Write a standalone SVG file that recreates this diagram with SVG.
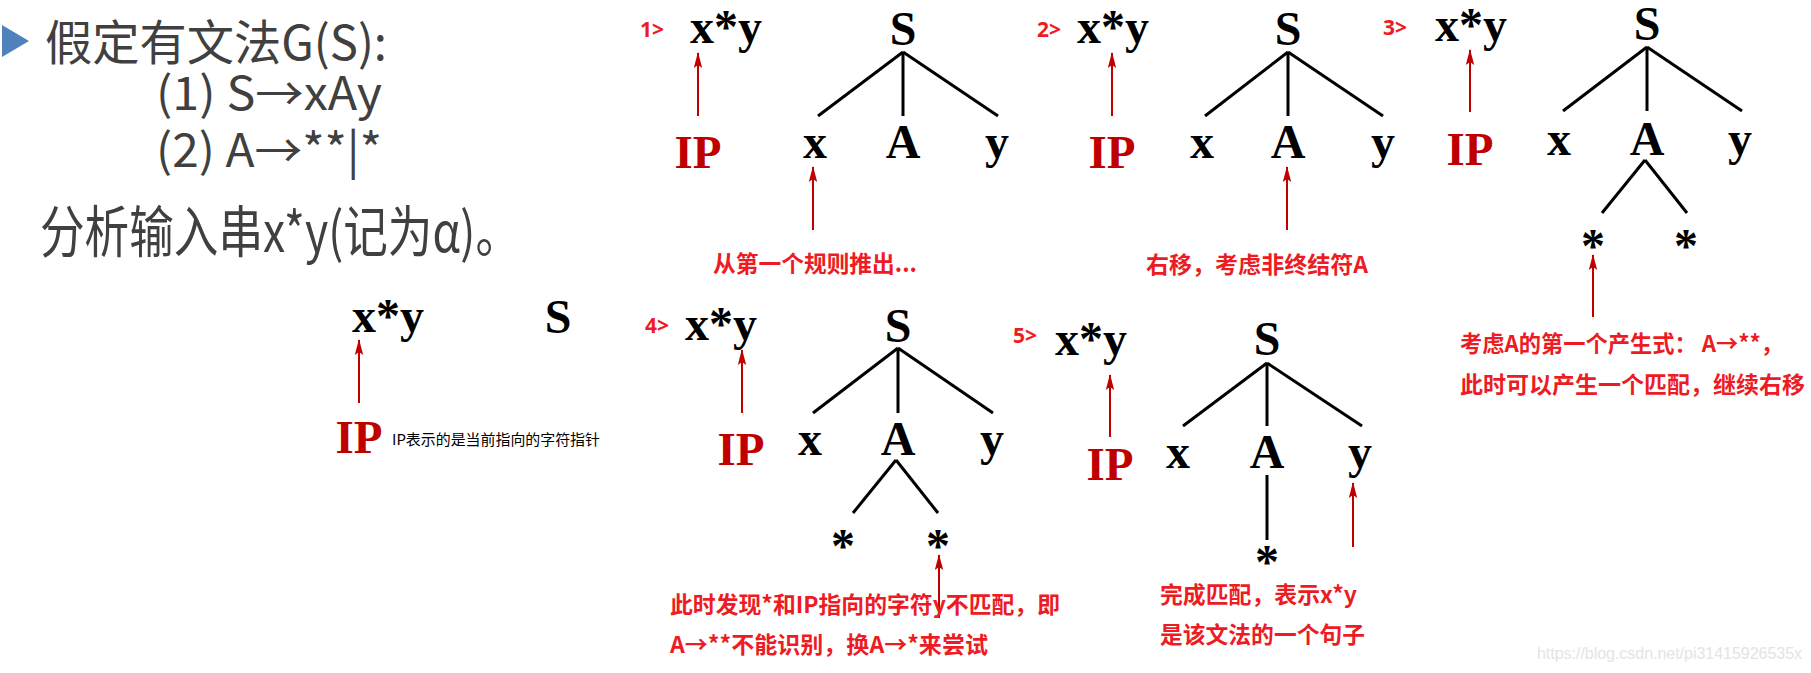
<svg xmlns="http://www.w3.org/2000/svg" width="1811" height="673" viewBox="0 0 1811 673">
<defs>
<style>
.intro{font-family:"Noto Sans CJK SC","Noto Sans",sans-serif;fill:#404040;}
.sym{font-family:"Liberation Serif","Times New Roman",serif;font-weight:bold;font-size:48px;fill:#000;}
.mid{text-anchor:middle;}
.ip{font-family:"Liberation Serif","Times New Roman",serif;font-weight:bold;font-size:47px;fill:#C00000;text-anchor:middle;}
.step{font-family:"Noto Sans","Noto Sans CJK SC",sans-serif;font-weight:bold;font-size:21px;fill:#ED1C24;}
.note{font-family:"Noto Sans CJK SC","Noto Sans",sans-serif;font-weight:bold;font-size:23px;fill:#ED1C24;}
.edge{stroke:#000;stroke-width:3;fill:none;}
.ptr{stroke:#C00000;stroke-width:2;fill:none;marker-end:url(#ah);}
</style>
<marker id="ah" markerUnits="userSpaceOnUse" viewBox="0 0 16 10" refX="15" refY="5" markerWidth="16" markerHeight="10" orient="auto">
<path d="M0,0.8 L16,5 L0,9.2 L3,5 Z" fill="#C00000"/>
</marker>
</defs>
<rect width="1811" height="673" fill="#fff"/>

<g id="intro">
<polygon points="2,25 29,41 2,57" fill="#4F81BD"/>
<text class="intro" x="45" y="60" font-size="48" textLength="342" lengthAdjust="spacingAndGlyphs">假定有文法G(S):</text>
<text class="intro" x="156" y="110" font-size="46" textLength="226" lengthAdjust="spacingAndGlyphs">(1) S→xAy</text>
<text class="intro" x="156" y="167" font-size="46" textLength="226" lengthAdjust="spacingAndGlyphs">(2) A→**|*</text>
<text class="intro" transform="translate(40,252) scale(1,1.2)" x="0" y="0" font-size="46" textLength="480" lengthAdjust="spacingAndGlyphs">分析输入串x*y(记为α)。</text>
</g>

<g id="connectors">
<g id="edges">
<line class="edge" x1="903" y1="52" x2="818" y2="116"/>
<line class="edge" x1="903" y1="52" x2="903" y2="116"/>
<line class="edge" x1="903" y1="52" x2="998" y2="116"/>

<line class="edge" x1="1288" y1="52" x2="1205" y2="116"/>
<line class="edge" x1="1288" y1="52" x2="1288" y2="116"/>
<line class="edge" x1="1288" y1="52" x2="1383" y2="116"/>

<line class="edge" x1="1647" y1="47" x2="1563" y2="111"/>
<line class="edge" x1="1647" y1="47" x2="1647" y2="111"/>
<line class="edge" x1="1647" y1="47" x2="1742" y2="111"/>
<line class="edge" x1="1645" y1="160" x2="1602" y2="213"/>
<line class="edge" x1="1645" y1="160" x2="1687" y2="213"/>

<line class="edge" x1="898" y1="348" x2="813" y2="413"/>
<line class="edge" x1="898" y1="348" x2="898" y2="413"/>
<line class="edge" x1="898" y1="348" x2="993" y2="413"/>
<line class="edge" x1="896" y1="460" x2="853" y2="513"/>
<line class="edge" x1="896" y1="460" x2="938" y2="513"/>

<line class="edge" x1="1267" y1="363" x2="1183" y2="426"/>
<line class="edge" x1="1267" y1="363" x2="1267" y2="426"/>
<line class="edge" x1="1267" y1="363" x2="1362" y2="426"/>
<line class="edge" x1="1267" y1="475" x2="1267" y2="540"/>
</g>
<g id="pointers">
<line class="ptr" x1="359" y1="403" x2="359" y2="340"/>
<line class="ptr" x1="698" y1="116" x2="698" y2="53"/>
<line class="ptr" x1="813" y1="230" x2="813" y2="167"/>
<line class="ptr" x1="1112" y1="116" x2="1112" y2="53"/>
<line class="ptr" x1="1287" y1="230" x2="1287" y2="167"/>
<line class="ptr" x1="1470" y1="112" x2="1470" y2="50"/>
<line class="ptr" x1="1593" y1="317" x2="1593" y2="255"/>
<line class="ptr" x1="742" y1="413" x2="742" y2="350"/>
<line class="ptr" x1="939" y1="618" x2="939" y2="555"/>
<line class="ptr" x1="1110" y1="437" x2="1110" y2="375"/>
<line class="ptr" x1="1353" y1="547" x2="1353" y2="483"/>
</g>
</g>

<g id="panel0">
<g id="p0-input"><text class="sym" x="352" y="332">x*y</text></g>
<g id="p0-S"><text class="sym mid" x="558" y="333">S</text></g>
<g id="p0-IP"><text class="ip" x="359" y="453">IP</text></g>
<g id="p0-note"><text x="392" y="445" font-family="Noto Sans CJK SC, Noto Sans, sans-serif" font-size="15" fill="#000" textLength="208" lengthAdjust="spacingAndGlyphs">IP表示的是当前指向的字符指针</text></g>
</g>

<g id="panel1">
<g id="p1-step"><text class="step" x="640" y="37">1&gt;</text></g>
<g id="p1-input"><text class="sym" x="690" y="43">x*y</text></g>
<g id="p1-S"><text class="sym mid" x="903" y="45">S</text></g>
<g id="p1-x"><text class="sym mid" x="815" y="158">x</text></g>
<g id="p1-A"><text class="sym mid" x="903" y="158">A</text></g>
<g id="p1-y"><text class="sym mid" x="997" y="158">y</text></g>
<g id="p1-IP"><text class="ip" x="698" y="168">IP</text></g>
<g id="p1-note"><text class="note" x="713" y="272" textLength="204" lengthAdjust="spacingAndGlyphs">从第一个规则推出...</text></g>
</g>

<g id="panel2">
<g id="p2-step"><text class="step" x="1037" y="37">2&gt;</text></g>
<g id="p2-input"><text class="sym" x="1077" y="43">x*y</text></g>
<g id="p2-S"><text class="sym mid" x="1288" y="45">S</text></g>
<g id="p2-x"><text class="sym mid" x="1202" y="158">x</text></g>
<g id="p2-A"><text class="sym mid" x="1288" y="158">A</text></g>
<g id="p2-y"><text class="sym mid" x="1383" y="158">y</text></g>
<g id="p2-IP"><text class="ip" x="1112" y="168">IP</text></g>
<g id="p2-note"><text class="note" x="1146" y="273" textLength="222" lengthAdjust="spacingAndGlyphs">右移，考虑非终结符A</text></g>
</g>

<g id="panel3">
<g id="p3-step"><text class="step" x="1383" y="35">3&gt;</text></g>
<g id="p3-input"><text class="sym" x="1435" y="41">x*y</text></g>
<g id="p3-S"><text class="sym mid" x="1647" y="40">S</text></g>
<g id="p3-x"><text class="sym mid" x="1559" y="155">x</text></g>
<g id="p3-A"><text class="sym mid" x="1647" y="155">A</text></g>
<g id="p3-y"><text class="sym mid" x="1740" y="155">y</text></g>
<g id="p3-star1"><text class="sym mid" x="1593" y="262">*</text></g>
<g id="p3-star2"><text class="sym mid" x="1686" y="262">*</text></g>
<g id="p3-IP"><text class="ip" x="1470" y="165">IP</text></g>
<g id="p3-note">
<text class="note" x="1460" y="352" textLength="323" lengthAdjust="spacingAndGlyphs">考虑A的第一个产生式： A→**，</text>
<text class="note" x="1460" y="393" textLength="345" lengthAdjust="spacingAndGlyphs">此时可以产生一个匹配，继续右移</text>
</g>
</g>

<g id="panel4">
<g id="p4-step"><text class="step" x="645" y="333">4&gt;</text></g>
<g id="p4-input"><text class="sym" x="685" y="340">x*y</text></g>
<g id="p4-S"><text class="sym mid" x="898" y="342">S</text></g>
<g id="p4-x"><text class="sym mid" x="810" y="455">x</text></g>
<g id="p4-A"><text class="sym mid" x="898" y="455">A</text></g>
<g id="p4-y"><text class="sym mid" x="992" y="455">y</text></g>
<g id="p4-star1"><text class="sym mid" x="843" y="562">*</text></g>
<g id="p4-star2"><text class="sym mid" x="938" y="562">*</text></g>
<g id="p4-IP"><text class="ip" x="741" y="465">IP</text></g>
<g id="p4-note">
<text class="note" x="670" y="613" textLength="390" lengthAdjust="spacingAndGlyphs">此时发现*和IP指向的字符y不匹配，即</text>
<text class="note" x="670" y="653" textLength="318" lengthAdjust="spacingAndGlyphs">A→**不能识别，换A→*来尝试</text>
</g>
</g>

<g id="panel5">
<g id="p5-step"><text class="step" x="1013" y="343">5&gt;</text></g>
<g id="p5-input"><text class="sym" x="1055" y="355">x*y</text></g>
<g id="p5-S"><text class="sym mid" x="1267" y="355">S</text></g>
<g id="p5-x"><text class="sym mid" x="1178" y="468">x</text></g>
<g id="p5-A"><text class="sym mid" x="1267" y="468">A</text></g>
<g id="p5-y"><text class="sym mid" x="1360" y="468">y</text></g>
<g id="p5-star"><text class="sym mid" x="1267" y="578">*</text></g>
<g id="p5-IP"><text class="ip" x="1110" y="480">IP</text></g>
<g id="p5-note">
<text class="note" x="1160" y="603" textLength="197" lengthAdjust="spacingAndGlyphs">完成匹配，表示x*y</text>
<text class="note" x="1160" y="643" textLength="205" lengthAdjust="spacingAndGlyphs">是该文法的一个句子</text>
</g>
</g>

<text x="1537" y="659" font-family="Liberation Sans, Arial, sans-serif" font-size="16" fill="#e4e4e4" textLength="265">https://blog.csdn.net/pi31415926535x</text>
</svg>
